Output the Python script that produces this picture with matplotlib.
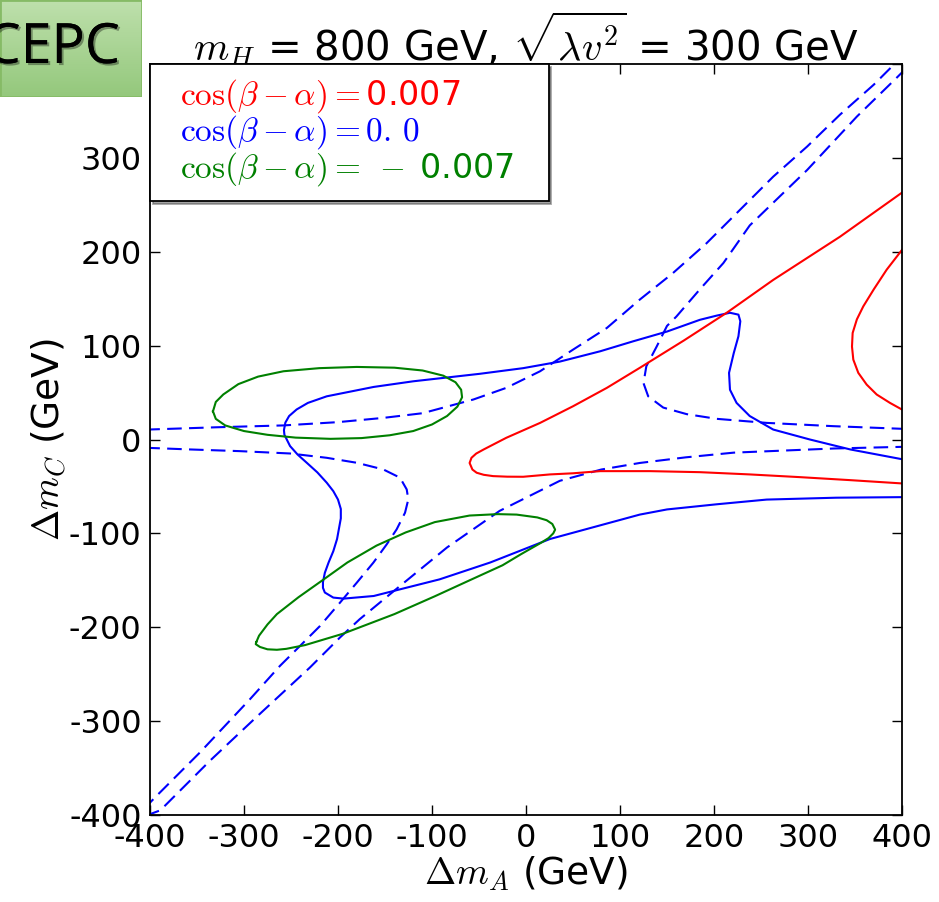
import numpy as np
import matplotlib
matplotlib.use('Agg')
import matplotlib.pyplot as plt
from matplotlib.lines import Line2D
from matplotlib.patches import Rectangle
import matplotlib.patheffects as pe

plt.rcParams['font.family'] = ['DejaVu Sans']
plt.rcParams['mathtext.fontset'] = 'cm'
plt.rcParams['axes.unicode_minus'] = False

# cos(b-a) = 0.007, red
red_a_x = [400, 334, 263, 213.5, 168, 121, 86, 50, 15, -21, -45, -53, -58, -60, -57, -52.5, -45, -35, -20, -3, 25.5, 50, 79, 132, 185, 238, 291.5, 345, 400]
red_a_y = [263, 216, 170, 135, 105.5, 76.3, 55, 35.4, 17.7, 1.8, -10.6, -15, -19.5, -25, -32, -35.4, -37.6, -39, -39.6, -39.7, -37.2, -36, -33.7, -33.7, -34.8, -37.2, -40.1, -43.3, -46.8]
red_b_x = [400, 383.7, 370, 358.8, 352, 347.5, 346.8, 348.2, 353.5, 362.4, 373.1, 387.2, 400]
red_b_y = [202, 180.9, 160, 141.8, 128, 113.5, 99, 85.1, 71, 58.5, 47.9, 39, 31.9]

# cos(b-a) = 0.0, blue (solid and dashed)
blue_x = [400, 345, 302, 263, 238, 224, 217, 216, 221, 226, 228, 226, 217, 203, 185, 150, 114, 79, 36, -3, -49, -80, -120, -162, -212, -232, -244, -252, -256, -257.5, -257, -251, -243, -233, -222, -212, -205, -200, -197, -197, -201, -205, -210, -214, -216, -216, -214, -205, -194, -162, -134, -92, -38, 25.5, 121, 150, 203, 256, 330, 400]
blue_y = [-21, -10.6, 0, 10.6, 25, 39, 53, 71, 92, 110, 126, 133, 135, 132, 127.5, 115, 104.6, 94, 83, 76, 70, 66.5, 62, 56, 46, 39, 32, 25, 18, 10, 5, -7, -16, -25, -35, -46, -55, -64, -74, -84, -106, -119, -131, -142, -152, -158, -163, -168.4, -169.5, -166.7, -159.6, -149, -131, -106, -80, -74.5, -69, -64, -62, -61.4]

dash1_x = [-405, -330, -258, -200, -152, -110, -91.5, -56, -21, 15, 50, 86, 121, 156, 192, 228, 263, 299, 334, 370, 391, 396]
dash1_y = [10.5, 13, 15, 18.5, 23, 28, 33, 42.6, 55, 72.7, 95.7, 118.8, 149, 177, 209, 245, 280, 312, 346, 378, 399, 404]
dash2_x = [405, 394, 352, 299, 270, 238, 210, 185, 160, 150, 139, 128, 125, 130, 146, 171, 203, 256, 327, 405]
dash2_y = [396, 385, 344, 287, 259, 228, 188, 160, 131, 121, 99, 78, 60, 46, 34, 27, 22, 17.7, 14.2, 11.2]
dash3_x = [-405, -357.4, -304.3, -251, -212, -180, -151.8, -134, -126.9, -125.2, -128.7, -137.6, -148.2, -162.4, -180, -197.9, -219.1, -240.4, -261.7, -293.6, -346.8, -392.9, -405]
dash3_y = [-8.8, -10.6, -12.4, -14.9, -19.5, -24.8, -31.9, -40.7, -53.2, -63.8, -78, -95.7, -111.7, -131.2, -152.5, -173.8, -198.6, -219.9, -241.1, -276.6, -333.3, -379.5, -392]
dash4_x = [-405, -389, -336, -285, -230, -198, -177, -134, -84, -28, 36, 80, 121, 170, 221, 327, 405]
dash4_y = [-401, -395, -342, -294, -243, -211, -191.5, -156, -115, -76, -44, -32, -25, -19, -14, -9.6, -7.7]

# cos(b-a) = -0.007, green
green_a_x = [-333, -330, -320, -300, -275, -245, -208, -175, -145, -120, -100, -84, -73, -68, -69, -75, -88, -110, -140, -180, -220, -258, -285, -306, -322, -330, -333]
green_a_y = [30, 22, 15, 9, 5, 2, 0.7, 1.5, 4.5, 9, 16, 25, 35, 45, 53, 61, 68, 73.5, 76.5, 77.3, 76, 72.7, 67, 59, 48, 40, 30]
green_b_x = [-287, -284, -275, -265, -242, -218, -190, -159, -128, -97, -60, -30, -10, 12, 22, 28, 31, 29, 24, 16, -5, -25, -60, -97, -140, -195, -235, -255, -265, -275, -283, -287.5, -287]
green_b_y = [-216, -209, -197, -186, -168, -151, -131, -113, -99, -88, -81, -79.5, -80, -83, -86, -90, -96, -100, -105, -110, -122, -134, -150, -167, -186, -207, -219, -223, -224, -223.5, -221, -218, -216]

ticks = [-400, -300, -200, -100, 0, 100, 200, 300, 400]
labels = [r'$\cos(\beta-\alpha)=$0.007', r'$\cos(\beta-\alpha)=0.\,0$', r'$\cos(\beta-\alpha)=\;-\;$0.007']
colors = ['red', 'blue', 'green']

fig = plt.figure(figsize=(9.39, 9.02), dpi=100)
ax = fig.add_axes([150 / 939, 1 - 815 / 902, 752 / 939, 751 / 902])

lw = 1.5
dsh = (7, 3.5)
ax.plot(blue_x, blue_y, color='blue', lw=lw)
for dx, dy in [(dash1_x, dash1_y), (dash2_x, dash2_y), (dash3_x, dash3_y), (dash4_x, dash4_y)]:
    ax.plot(dx, dy, color='blue', lw=lw, ls='--', dashes=dsh)
ax.plot(red_a_x, red_a_y, color='red', lw=lw)
ax.plot(red_b_x, red_b_y, color='red', lw=lw)
ax.plot(green_a_x, green_a_y, color='green', lw=lw)
ax.plot(green_b_x, green_b_y, color='green', lw=lw)

ax.set_xlim(-400, 400)
ax.set_ylim(-400, 400)
ax.set_xticks(ticks)
ax.set_yticks(ticks)
ax.tick_params(direction='in', length=7, width=1, top=True, right=True, labelsize=23, pad=6)
for s in ax.spines.values():
    s.set_linewidth(1.3)

ax.set_xlabel(r'$\Delta m_A$ (GeV)', fontsize=27, labelpad=0)
ax.set_ylabel(r'$\Delta m_C$ (GeV)', fontsize=27, labelpad=0)
ax.set_title(r'$m_H$ = 800 GeV, $\sqrt{\lambda v^2}$ = 300 GeV', fontsize=29, pad=2)

# legend with text only
handles = [Line2D([], [], color=c, ls='none') for c in colors]
leg = ax.legend(handles, labels, loc='upper left', bbox_to_anchor=(0, 0, 0.53, 1),
                mode='expand', borderaxespad=0, handlelength=0.5, handletextpad=0,
                labelcolor='linecolor', fontsize=24, fancybox=False, shadow=True,
                framealpha=1, edgecolor='black', labelspacing=-0.05, borderpad=0.4)
leg.get_frame().set_linewidth(1.3)

# CEPC label box
logo = fig.add_axes([0, 1 - 97 / 902, 142 / 939, 97 / 902])
grad = np.linspace(0, 1, 100).reshape(-1, 1)
top_c = np.array([190, 224, 172]) / 255
bot_c = np.array([148, 200, 124]) / 255
img = top_c[None, None, :] * (1 - grad[:, :, None]) + bot_c[None, None, :] * grad[:, :, None]
logo.imshow(img, aspect='auto', extent=[0, 1, 0, 1])
logo.add_patch(Rectangle((0, 0), 1, 1, fill=False, edgecolor='#86bb66', lw=2, transform=logo.transAxes))
logo.set_xlim(0, 1)
logo.set_ylim(0, 1)
logo.axis('off')
t = logo.text(0.37, 0.5, 'CEPC', fontsize=40, family=['Liberation Sans Narrow', 'Open Sans'],
              ha='center', va='center', color='black')
t.set_path_effects([pe.withSimplePatchShadow(offset=(1.5, -1.5), alpha=0.35), pe.Normal()])

fig.savefig('out.png', dpi=100)
